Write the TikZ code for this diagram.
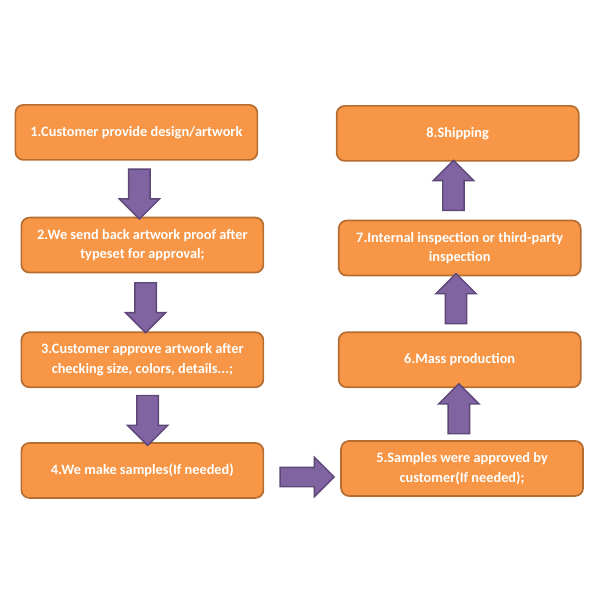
\documentclass[tikz,border=0pt]{standalone}
\usepackage{fontspec}
\setmainfont{Carlito}
\usepackage{tikz}
\usetikzlibrary{shapes.arrows, positioning, calc}

\definecolor{boxfill}{HTML}{F79646}
\definecolor{boxline}{HTML}{B66D31}
\definecolor{arrfill}{HTML}{8064A2}
\definecolor{arrline}{HTML}{5C4776}

\begin{document}
\begin{tikzpicture}[
    box/.style={draw=boxline, line width=1.2pt, fill=boxfill, rectangle, rounded corners=0.2cm, minimum height=1.375cm, minimum width=6.05cm, align=center, text=white, font=\bfseries\fontsize{10.2}{14.2}\selectfont},
    blockarr/.style={single arrow, draw=arrline, line width=1pt, fill=arrfill, inner xsep=0pt, inner ysep=0.25cm, minimum height=1.25cm, minimum width=0.975cm, single arrow head extend=0.2375cm, single arrow tip angle=90}
]
\useasboundingbox (0,0) rectangle (15,-15);

% left column, top to bottom
\node (s1) [box] at (3.41,-3.31) {1.Customer provide design/artwork};
\node (s2) [box, below=1.4cm of s1, xshift=0.15cm] {2.We send back artwork proof after\\typeset for approval;};
\node (s3) [box, below=1.45cm of s2] {3.Customer approve artwork after\\checking size, colors, details...;};
\node (s4) [box, below=1.35cm of s3] {4.We make samples(If needed)};

% right column, bottom to top
\node (s5) [box, right=1.9cm of s4, yshift=0.05cm] {5.Samples were approved by\\customer(If needed);};
\node (s6) [box, above=1.3cm of s5, xshift=-0.06cm] {6.Mass production};
\node (s7) [box, above=1.375cm of s6] {7.Internal inspection or third-party\\inspection};
\node (s8) [box, above=1.45cm of s7, xshift=-0.05cm] {8.Shipping};

% block arrows
\node (a12) [blockarr, rotate=-90] at ($(s1.south)!0.5!(s2.north)$) {};
\node (a23) [blockarr, rotate=-90, yshift=0.08cm] at ($(s2.south)!0.5!(s3.north)$) {};
\node (a34) [blockarr, rotate=-90, yshift=0.13cm] at ($(s3.south)!0.5!(s4.north)$) {};
\node (a45) [blockarr, inner ysep=0.225cm, minimum height=1.35cm, minimum width=0.95cm, single arrow head extend=0.25cm] at ($(s4.east)!0.5!(s5.west)+(0,-0.19)$) {};
\node (a56) [blockarr, rotate=90] at ($(s5.north)!0.5!(s6.south)+(-0.05,0)$) {};
\node (a67) [blockarr, rotate=90] at ($(s6.north)!0.5!(s7.south)+(-0.09,0)$) {};
\node (a78) [blockarr, rotate=90] at ($(s7.north)!0.5!(s8.south)+(-0.13,0)$) {};
\end{tikzpicture}
\end{document}
